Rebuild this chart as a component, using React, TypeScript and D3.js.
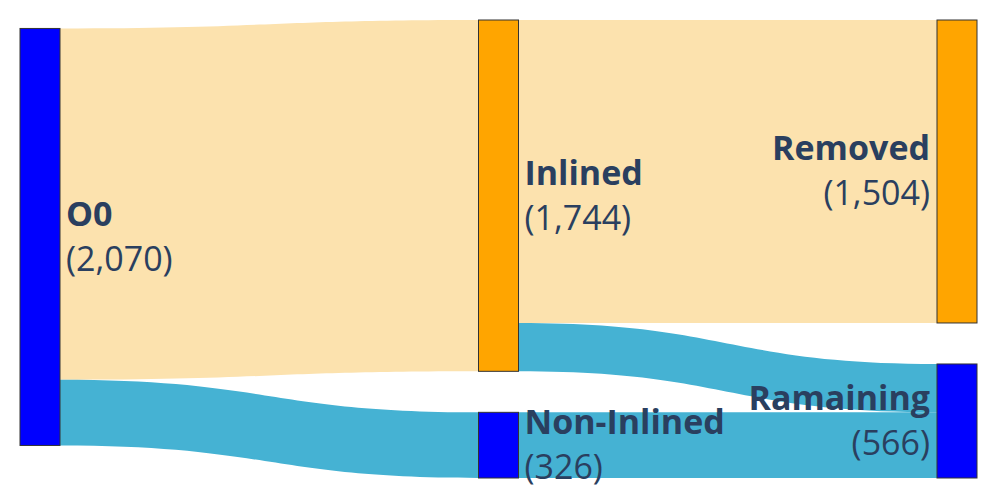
import React from "react";
import * as d3 from "d3";

const nodeNames = ["O0", "Inlined", "Non-Inlined", "Removed", "Ramaining"];
const nodeColumns = [0, 1, 1, 2, 2];
const nodeColors = ["#0000ff", "#ffa500", "#0000ff", "#ffa500", "#0000ff"];

const linkSources = [0, 0, 1, 1, 2];
const linkTargets = [1, 2, 3, 4, 4];
const linkValues = [1744, 326, 1504, 240, 326];
const linkColors = ["#fce2ae", "#45b2d3", "#fce2ae", "#45b2d3", "#45b2d3"];

const W = 997;
const H = 499;
const top = 20;
const bottom = 478;
const nodeWidth = 40;
const nodePad = 41;
const fontColor = "#2a3f5f";
const fmt = d3.format(",");

const links = linkValues.map((v, i) => ({
  source: linkSources[i],
  target: linkTargets[i],
  value: v,
  color: linkColors[i],
  y0: 0,
  y1: 0,
  w: 0,
}));

const nodes = nodeNames.map((name, i) => {
  const ins = d3.sum(links.filter(l => l.target === i), l => l.value);
  const outs = d3.sum(links.filter(l => l.source === i), l => l.value);
  return { name, col: nodeColumns[i], color: nodeColors[i], value: Math.max(ins, outs), y0: 0, y1: 0 };
});

const xScale = d3.scaleLinear().domain([0, 2]).range([20, 937]);

// value -> px, from the fullest column
const colTotals = d3.rollup(nodes, v => ({ sum: d3.sum(v, n => n.value), n: v.length }), n => n.col);
const ky = d3.min(Array.from(colTotals.values()), c => (bottom - top - (c.n - 1) * nodePad) / c.sum) as number;

// stack columns 1 and 2 from the top
[1, 2].forEach(c => {
  let y = top;
  nodes.forEach(n => {
    if (n.col !== c) return;
    n.y0 = y;
    n.y1 = y + n.value * ky;
    y = n.y1 + nodePad;
  });
});

// target side of links
nodes.forEach((n, i) => {
  let y = n.y0;
  links.filter(l => l.target === i)
    .sort((a, b) => nodes[a.source].y0 - nodes[b.source].y0)
    .forEach(l => { l.w = l.value * ky; l.y1 = y; y += l.w; });
});

// place first column by its links, then source side of links
nodes.forEach((n, i) => {
  if (n.col !== 0) return;
  const outs = links.filter(l => l.source === i).sort((a, b) => a.y1 - b.y1);
  let off = 0;
  const cands = outs.map(l => { const c = l.y1 - off; off += l.value * ky; return c; });
  const y = d3.sum(outs, (l, j) => cands[j] * l.value) / d3.sum(outs, l => l.value) + 2;
  n.y0 = y;
  n.y1 = y + n.value * ky;
});
nodes.forEach((n, i) => {
  let y = n.y0;
  links.filter(l => l.source === i)
    .sort((a, b) => a.y1 - b.y1)
    .forEach(l => { l.w = l.value * ky; l.y0 = y; y += l.w; });
});

const linkPath = (l: typeof links[number]) => {
  const x0 = xScale(nodes[l.source].col) + nodeWidth;
  const x1 = xScale(nodes[l.target].col);
  const xm = (x0 + x1) / 2;
  const p = d3.path();
  p.moveTo(x0, l.y0);
  p.bezierCurveTo(xm, l.y0, xm, l.y1, x1, l.y1);
  p.lineTo(x1, l.y1 + l.w);
  p.bezierCurveTo(xm, l.y1 + l.w, xm, l.y0 + l.w, x0, l.y0 + l.w);
  p.closePath();
  return p.toString();
};

const App = () => {
  return (
    <svg width={W} height={H} style={{ position: "absolute", left: 0, top: 0, background: "#fff" }}>
      <g>
        {links.map((l, i) => (
          <path key={i} d={linkPath(l)} fill={l.color} />
        ))}
      </g>
      <g>
        {nodes.map((n, i) => (
          <rect
            key={i}
            x={xScale(n.col)}
            y={n.y0}
            width={nodeWidth}
            height={n.y1 - n.y0}
            fill={n.color}
            stroke="#333"
            strokeWidth={1}
          />
        ))}
      </g>
      <g fontFamily="'Open Sans', sans-serif" fontSize={34} fill={fontColor}>
        {nodes.map((n, i) => {
          const last = n.col === 2;
          const x = last ? xScale(n.col) - 7 : xScale(n.col) + nodeWidth + 6;
          const cy = (n.y0 + n.y1) / 2;
          return (
            <text key={i} x={x} textAnchor={last ? "end" : "start"}>
              <tspan x={x} y={cy - 11} fontWeight="bold">{n.name}</tspan>
              <tspan x={x} y={cy + 34}>({fmt(n.value)})</tspan>
            </text>
          );
        })}
      </g>
    </svg>
  );
};

export default App;
